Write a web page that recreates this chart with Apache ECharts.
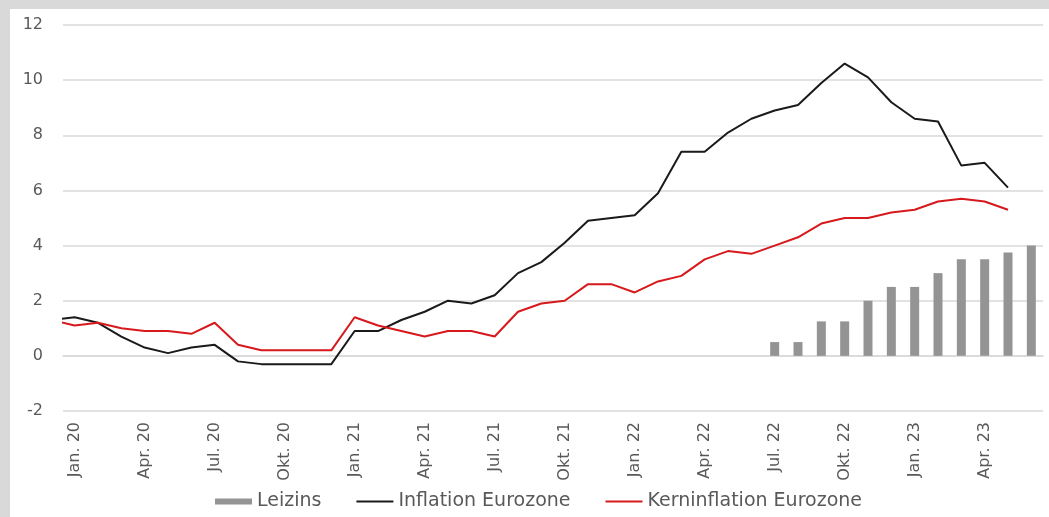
<!DOCTYPE html>
<html>
<head>
<meta charset="utf-8">
<script src="https://cdn.jsdelivr.net/npm/echarts@6/dist/echarts.min.js"></script>
<style>
  body { margin: 0; }
  #wrap { position: relative; width: 1049px; height: 517px; background: #d9d9d9; }
  #main { position: absolute; left: 10px; top: 9px; width: 1039px; height: 508px; background: #fff; }
</style>
</head>
<body>
<div id="wrap"><div id="main"></div></div>
<script>
// Monate Jan. 20 bis Jun. 23
var months = [
  'Jan. 20', 'Feb. 20', 'Mär. 20', 'Apr. 20', 'Mai 20', 'Jun. 20', 'Jul. 20', 'Aug. 20', 'Sep. 20', 'Okt. 20', 'Nov. 20', 'Dez. 20',
  'Jan. 21', 'Feb. 21', 'Mär. 21', 'Apr. 21', 'Mai 21', 'Jun. 21', 'Jul. 21', 'Aug. 21', 'Sep. 21', 'Okt. 21', 'Nov. 21', 'Dez. 21',
  'Jan. 22', 'Feb. 22', 'Mär. 22', 'Apr. 22', 'Mai 22', 'Jun. 22', 'Jul. 22', 'Aug. 22', 'Sep. 22', 'Okt. 22', 'Nov. 22', 'Dez. 22',
  'Jan. 23', 'Feb. 23', 'Mär. 23', 'Apr. 23', 'Mai 23', 'Jun. 23'
];

// Leitzins ab Jul. 22
var leizinsMonths = ['Jul. 22', 'Aug. 22', 'Sep. 22', 'Okt. 22', 'Nov. 22', 'Dez. 22', 'Jan. 23', 'Feb. 23', 'Mär. 23', 'Apr. 23', 'Mai 23', 'Jun. 23'];
var leizins = [0.5, 0.5, 1.25, 1.25, 2, 2.5, 2.5, 3, 3.5, 3.5, 3.75, 4];

// Inflation, Dez. 19 bis Mai 23 (Dez. 19 liegt links ausserhalb der Achse)
var inflation = [1.3,
  1.4, 1.2, 0.7, 0.3, 0.1, 0.3, 0.4, -0.2, -0.3, -0.3, -0.3, -0.3,
  0.9, 0.9, 1.3, 1.6, 2.0, 1.9, 2.2, 3.0, 3.4, 4.1, 4.9, 5.0,
  5.1, 5.9, 7.4, 7.4, 8.1, 8.6, 8.9, 9.1, 9.9, 10.6, 10.1, 9.2,
  8.6, 8.5, 6.9, 7.0, 6.1];
var kerninflation = [1.3,
  1.1, 1.2, 1.0, 0.9, 0.9, 0.8, 1.2, 0.4, 0.2, 0.2, 0.2, 0.2,
  1.4, 1.1, 0.9, 0.7, 0.9, 0.9, 0.7, 1.6, 1.9, 2.0, 2.6, 2.6,
  2.3, 2.7, 2.9, 3.5, 3.8, 3.7, 4.0, 4.3, 4.8, 5.0, 5.0, 5.2,
  5.3, 5.6, 5.7, 5.6, 5.3];
var firstLineIndex = -1; // Dez. 19

var barData = months.map(function (m) {
  var i = leizinsMonths.indexOf(m);
  return i < 0 ? null : leizins[i];
});
function toXY(arr) {
  return arr.map(function (v, i) { return [firstLineIndex + i, v]; });
}

var textColor = '#595959';
var chart = echarts.init(document.getElementById('main'));

var option = {
  animation: false,
  textStyle: { fontFamily: 'DejaVu Sans' },
  grid: { left: 53, right: 6, top: 16, bottom: 106 },
  legend: {
    left: 200,
    top: 478,
    itemWidth: 37,
    itemHeight: 6,
    itemGap: 34,
    textStyle: { color: textColor, fontSize: 19, fontFamily: 'DejaVu Sans' },
    data: [
      { name: 'Leizins', icon: 'rect' },
      { name: 'Inflation Eurozone', itemStyle: { opacity: 0 } },
      { name: 'Kerninflation Eurozone', itemStyle: { opacity: 0 } }
    ]
  },
  xAxis: [
    {
      type: 'category',
      data: months,
      position: 'bottom',
      axisLine: { show: false, onZero: false },
      axisTick: { show: false },
      axisLabel: { rotate: 90, interval: 2, margin: 11, color: textColor, fontSize: 16 }
    },
    {
      type: 'category',
      data: months,
      position: 'bottom',
      axisLine: { onZero: true, lineStyle: { color: '#d9d9d9', width: 1.5 } },
      axisTick: { interval: 2, length: 5, lineStyle: { color: '#d9d9d9', width: 1.5 } },
      axisLabel: { show: false }
    },
    {
      type: 'value',
      min: -0.5,
      max: months.length - 0.5,
      show: false
    }
  ],
  yAxis: {
    type: 'value',
    min: -2,
    max: 12,
    interval: 2,
    axisLine: { show: false },
    axisTick: { show: false },
    axisLabel: { margin: 20, color: textColor, fontSize: 16 },
    splitLine: { lineStyle: { color: '#d9d9d9', width: 1.5 } }
  },
  series: [
    {
      name: 'Leizins',
      type: 'bar',
      xAxisIndex: 0,
      barWidth: 9,
      itemStyle: { color: '#949494' },
      data: barData
    },
    {
      name: 'Inflation Eurozone',
      type: 'line',
      xAxisIndex: 2,
      symbol: 'none',
      clip: true,
      lineStyle: { color: '#1a1a1a', width: 2 },
      itemStyle: { color: '#1a1a1a' },
      data: toXY(inflation)
    },
    {
      name: 'Kerninflation Eurozone',
      type: 'line',
      xAxisIndex: 2,
      symbol: 'none',
      clip: true,
      lineStyle: { color: '#d7191c', width: 2 },
      itemStyle: { color: '#d7191c' },
      data: toXY(kerninflation)
    }
  ]
};
chart.setOption(option);
</script>
</body>
</html>
